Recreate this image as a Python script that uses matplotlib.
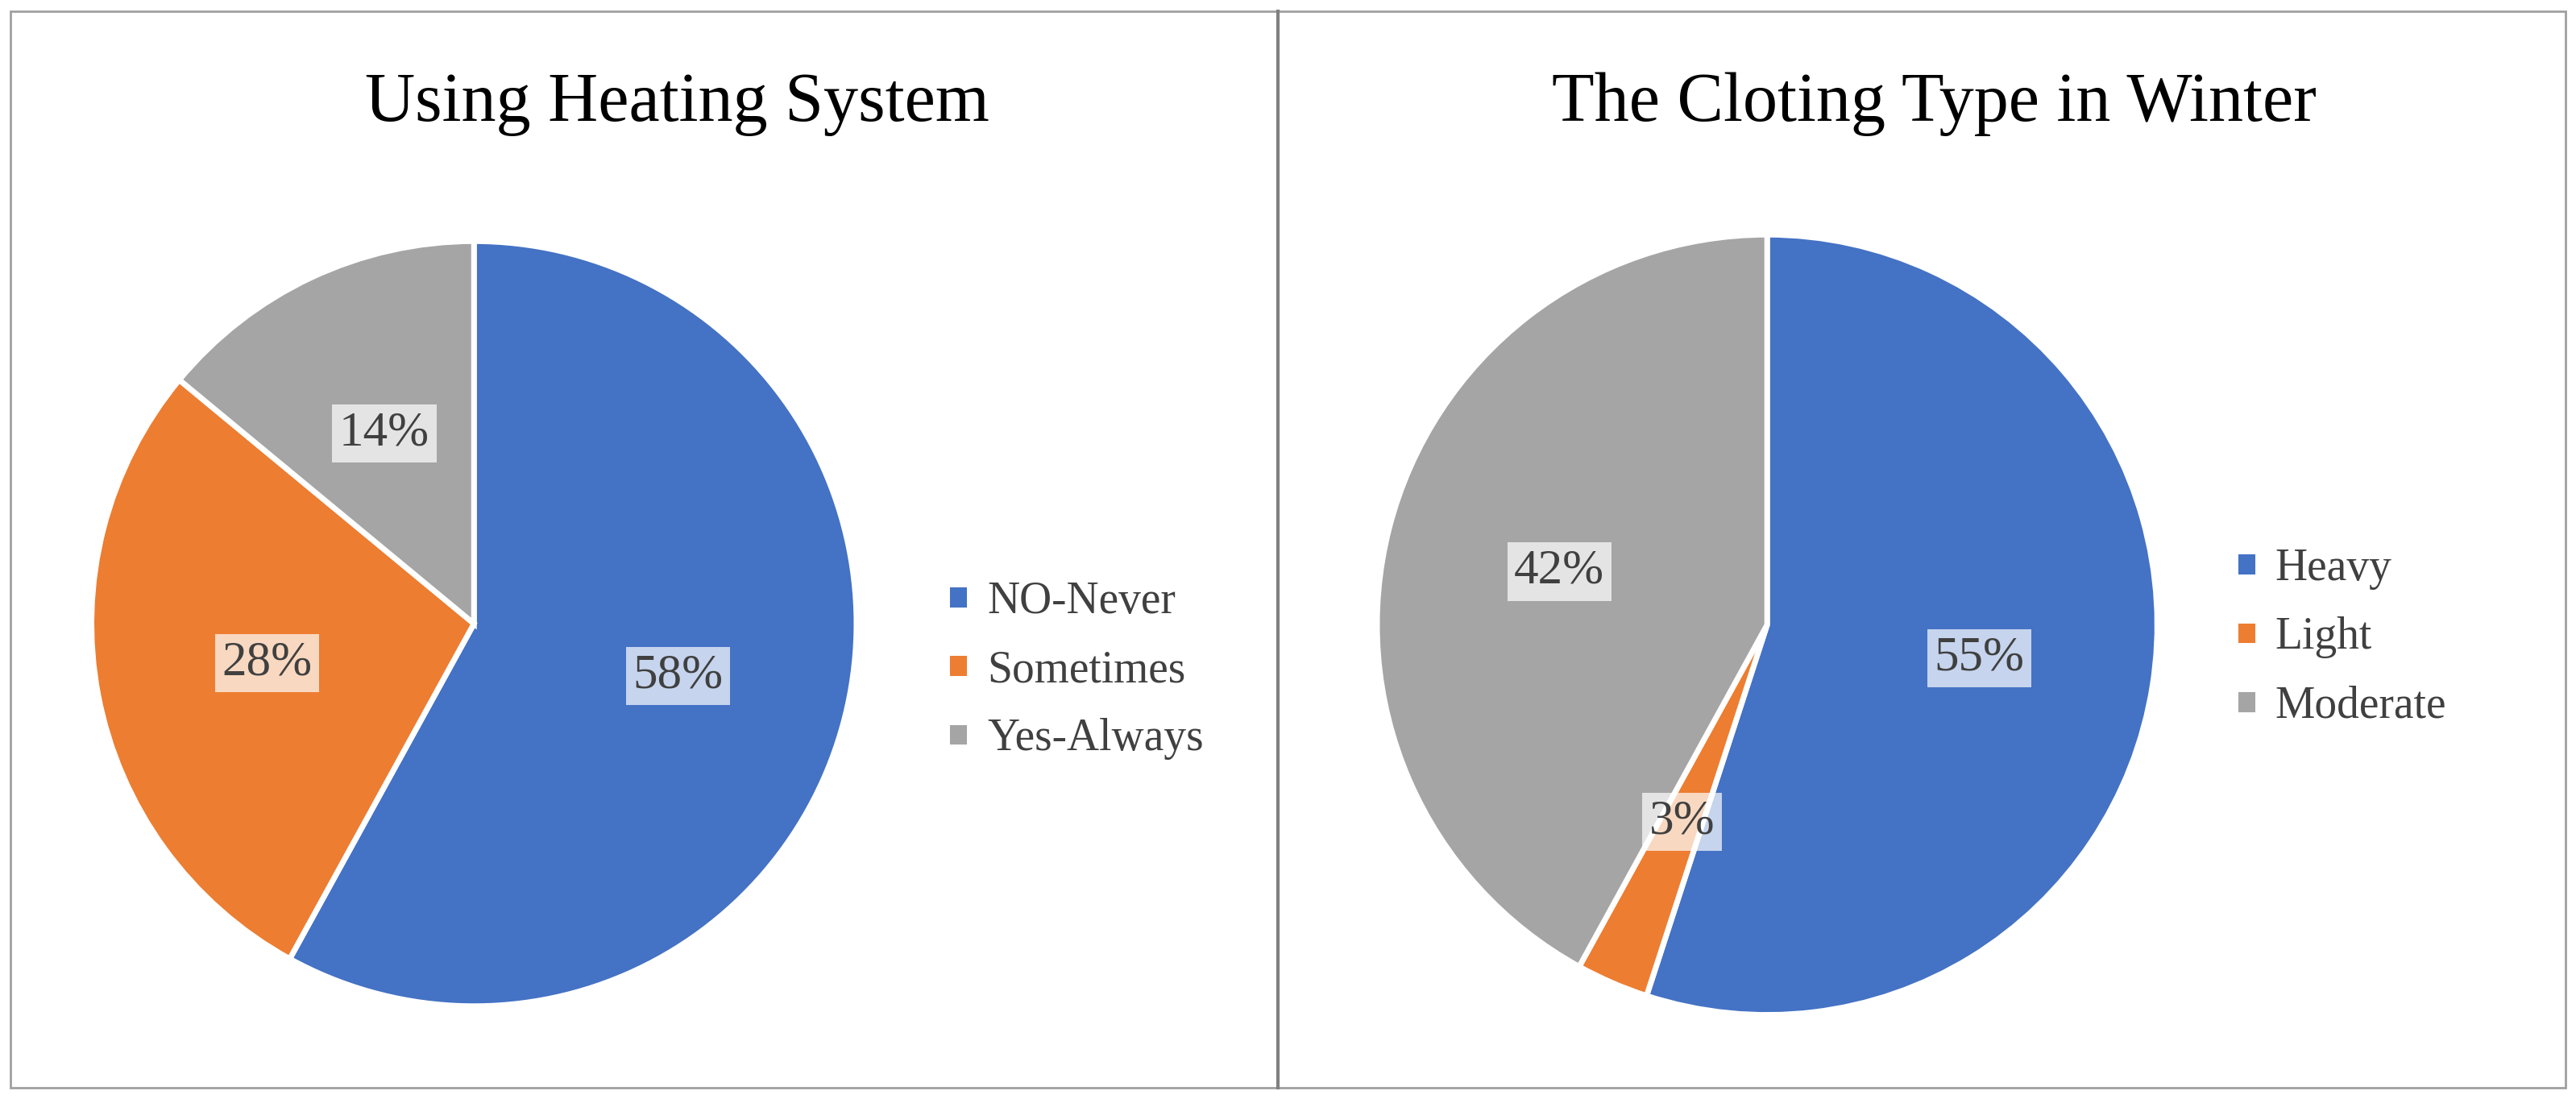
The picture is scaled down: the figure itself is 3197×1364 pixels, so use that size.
import matplotlib.pyplot as plt
from matplotlib.lines import Line2D
from matplotlib.patches import Rectangle

plt.rcParams['font.family'] = ['Liberation Serif', 'DejaVu Serif']

COLORS = ["#4472C4", "#ED7D31", "#A5A5A5"]

heating_labels = ["NO-Never", "Sometimes", "Yes-Always"]
heating_values = [58, 28, 14]

clothing_labels = ["Heavy", "Light", "Moderate"]
clothing_values = [55, 3, 42]

fig = plt.figure(figsize=(31.97, 13.64), dpi=100)

# outer frame and divider
fig.patches.append(Rectangle((0.004, 0.01), 0.992, 0.98, transform=fig.transFigure,
                             fill=False, edgecolor="#A0A0A0", linewidth=2))
fig.lines.append(Line2D([0.496, 0.496], [0.01, 0.99], transform=fig.transFigure,
                        color="#808080", linewidth=3))

def draw_pie(rect, values, labels, title, title_x, legend_anchor):
    ax = fig.add_axes(rect)
    wedges, texts, autotexts = ax.pie(
        values, colors=COLORS, startangle=90, counterclock=False,
        autopct="%d%%", pctdistance=0.55,
        wedgeprops=dict(edgecolor="white", linewidth=5),
        textprops=dict(fontsize=44, color="#404040"))
    for t in autotexts:
        t.set_bbox(dict(facecolor="white", alpha=0.7, edgecolor="none", pad=6))
    ax.set_aspect("equal")
    ax.set_xlim(-1.01, 1.01)
    ax.set_ylim(-1.01, 1.01)
    fig.text(title_x, 0.905, title, ha="center", va="center", fontsize=62, color="black")
    fig.legend(wedges, labels, loc="center left", bbox_to_anchor=legend_anchor,
               frameon=False, fontsize=40, handlelength=0.5, handleheight=0.5,
               handletextpad=0.4, labelspacing=0.6, labelcolor="#404040")
    return ax

draw_pie([0.034, 0.081, 0.30, 0.703], heating_values, heating_labels,
         "Using Heating System", 0.263, (0.352, 0.39))
draw_pie([0.533, 0.073, 0.306, 0.717], clothing_values, clothing_labels,
         "The Cloting Type in Winter", 0.751, (0.852, 0.42))

fig.savefig("out.png", dpi=100)
